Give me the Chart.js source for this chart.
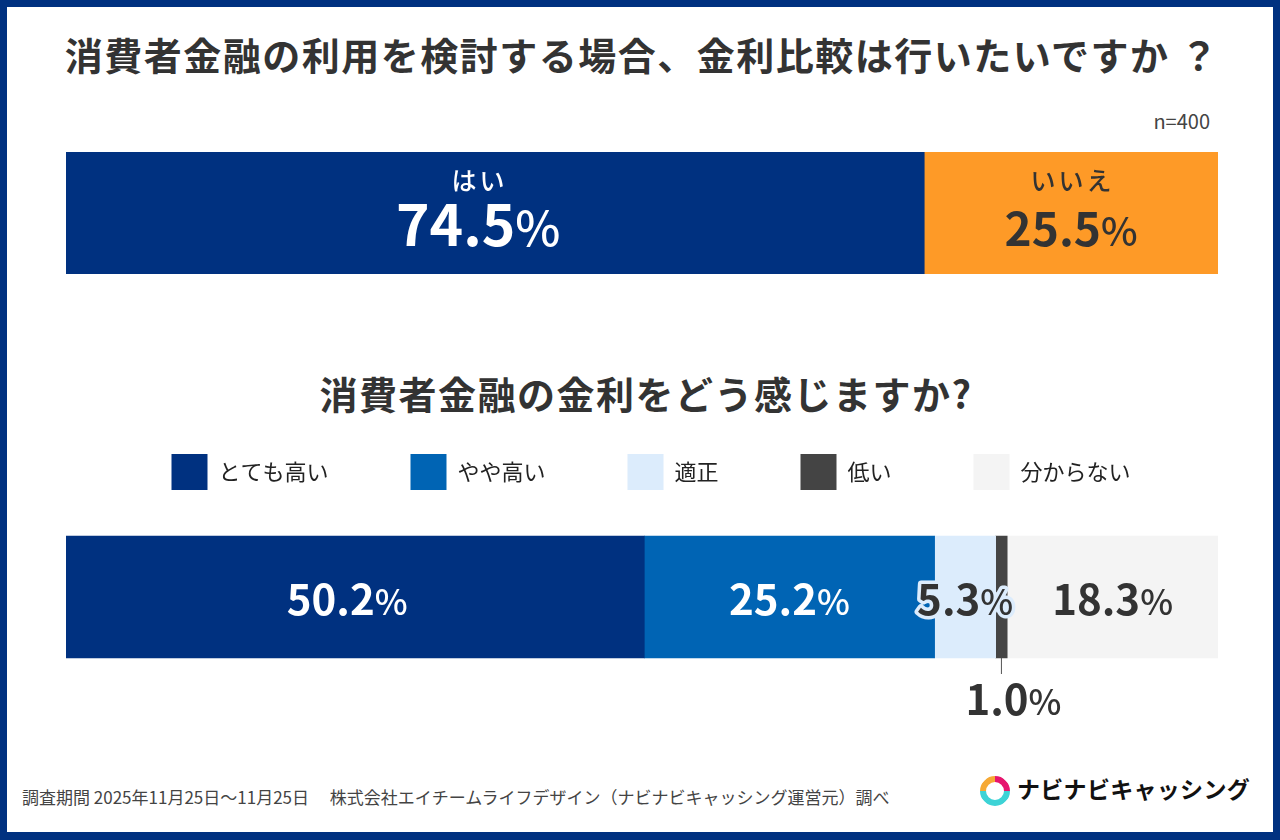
<!DOCTYPE html>
<html lang="ja">
<head>
<meta charset="utf-8">
<title>消費者金融の金利に関するアンケート</title>
<script src="https://cdn.jsdelivr.net/npm/chart.js@4.4.1/dist/chart.umd.min.js"></script>
<style>
    html, body { margin: 0; padding: 0; }
    body {
        position: relative;
        width: 1280px;
        height: 840px;
        overflow: hidden;
        background: #003180;
        font-family: "Noto Sans CJK JP", "Noto Sans", sans-serif;
        color: #333;
    }
    .frame { position: absolute; left: 7px; top: 7px; width: 1266px; height: 825px; background: #fff; }
    .title {
        position: absolute;
        left: 0;
        width: 1280px;
        text-align: center;
        font-size: 38px;
        line-height: 38px;
        font-weight: 700;
        letter-spacing: 1.5px;
        white-space: nowrap;
    }
    #title1 { top: 35px; padding-left: 4px; box-sizing: border-box; }
    #title2 { top: 374px; padding-left: 12px; box-sizing: border-box; }
    #sample { position: absolute; right: 70px; top: 111px; font-size: 20px; line-height: 20px; color: #444; }
    canvas { position: absolute; left: 0; }
    #q1Chart { top: 152px; }
    #q2Chart { top: 360px; }
    #footer { position: absolute; left: 22px; top: 788px; font-size: 17px; line-height: 17px; color: #444; white-space: nowrap; }
    .logo-ring {
        position: absolute;
        left: 980px;
        top: 776px;
        width: 18px;
        height: 18px;
        border: 6px solid;
        border-radius: 50%;
        border-color: #e6156e #3dd3d6 #3dd3d6 #f6a935;
        transform: rotate(45deg);
    }
    .logo-text { position: absolute; left: 1017px; top: 777px; font-size: 23px; line-height: 23px; font-weight: 700; color: #111; letter-spacing: 0.3px; white-space: nowrap; }
</style>
</head>
<body>
<div class="frame"></div>
<div class="title" id="title1">消費者金融の利用を検討する場合、金利比較は行いたいですか ？</div>
<div id="sample">n=400</div>
<canvas id="q1Chart" width="1280" height="122"></canvas>
<div class="title" id="title2">消費者金融の金利をどう感じますか?</div>
<canvas id="q2Chart" width="1280" height="370"></canvas>
<div id="footer">調査期間 2025年11月25日～11月25日　 株式会社エイチームライフデザイン（ナビナビキャッシング運営元）調べ</div>
<div class="logo-ring"></div>
<div class="logo-text">ナビナビキャッシング</div>

<script>
// 金利比較は行いたいですか？
var q1Labels = ["はい", "いいえ"];
var q1Values = [74.5, 25.5];

// 金利をどう感じますか?
var q2Labels = ["とても高い", "やや高い", "適正", "低い", "分からない"];
var q2Values = [50.2, 25.2, 5.3, 1.0, 18.3];

// colours
var q1Colors = ['#003180', '#fe9a27'];
var q1TextColors = ['#ffffff', '#333333'];
var q2Colors = ['#003180', '#0064b4', '#dcecfc', '#444444', '#f4f4f4'];
var q2TextColors = ['#ffffff', '#ffffff', '#333333', '#333333', '#333333'];

var FONT = '"Noto Sans CJK JP", "Noto Sans", sans-serif';

// draws "74.5%" with a lighter, smaller percent sign
function drawPercent(ctx, value, cx, baseline, size, color, outline) {
    var num = value.toFixed(1);
    var numFont = 'bold ' + size + 'px ' + FONT;
    var pctFont = '500 ' + Math.round(size * 0.84) + 'px ' + FONT;
    ctx.font = numFont;
    var w1 = ctx.measureText(num).width;
    ctx.font = pctFont;
    var w2 = ctx.measureText('%').width;
    var x = cx - (w1 + w2) / 2;
    ctx.textAlign = 'left';
    ctx.textBaseline = 'alphabetic';
    if (outline) {
        ctx.strokeStyle = outline;
        ctx.lineWidth = 7;
        ctx.lineJoin = 'round';
        ctx.font = numFont;
        ctx.strokeText(num, x, baseline);
        ctx.font = pctFont;
        ctx.strokeText('%', x + w1, baseline);
    }
    ctx.fillStyle = color;
    ctx.font = numFont;
    ctx.fillText(num, x, baseline);
    ctx.font = pctFont;
    ctx.fillText('%', x + w1, baseline);
    return w1 + w2;
}

function textWidth(ctx, value, size) {
    ctx.font = 'bold ' + size + 'px ' + FONT;
    var w = ctx.measureText(value.toFixed(1)).width;
    ctx.font = '500 ' + Math.round(size * 0.84) + 'px ' + FONT;
    return w + ctx.measureText('%').width;
}

// labels inside (or below) each stacked segment
var barLabels = {
    id: 'barLabels',
    afterLayout: function (chart, args, opts) {
        // nudge the legend row a little to the right
        if (chart.legend && opts.legendShift) {
            chart.legend.left += opts.legendShift;
            chart.legend.right += opts.legendShift;
        }
    },
    afterDatasetsDraw: function (chart, args, opts) {
        var ctx = chart.ctx;
        ctx.save();
        chart.data.datasets.forEach(function (ds, i) {
            var bar = chart.getDatasetMeta(i).data[0];
            var left = Math.min(bar.x, bar.base);
            var right = Math.max(bar.x, bar.base);
            var cx = (left + right) / 2 + opts.shift[i];
            var cy = bar.y;
            var bottom = bar.y + bar.height / 2;
            var value = ds.data[0];
            var color = opts.textColors[i];
            var size = opts.sizes[i];

            if (right - left < 20) {
                // too thin: leader line and label under the bar
                ctx.strokeStyle = '#555';
                ctx.lineWidth = 1;
                ctx.beginPath();
                ctx.moveTo((left + right) / 2, bottom);
                ctx.lineTo((left + right) / 2, bottom + 16);
                ctx.stroke();
                drawPercent(ctx, value, cx, bottom + 57, size, '#333333');
                return;
            }

            if (opts.showCategory) {
                ctx.font = '500 25px ' + FONT;
                ctx.letterSpacing = '3px';
                ctx.fillStyle = color;
                ctx.textAlign = 'center';
                ctx.textBaseline = 'middle';
                ctx.fillText(ds.label, cx + 1.5, cy - 33);
                ctx.letterSpacing = '0px';
            }

            var outline = textWidth(ctx, value, size) > right - left ? ds.backgroundColor : null;
            drawPercent(ctx, value, cx, cy + opts.baseline, size, color, outline);
        });
        ctx.restore();
    }
};

var chartQ1 = new Chart(document.getElementById('q1Chart'), {
    type: 'bar',
    data: {
        labels: ['q1'],
        datasets: q1Labels.map(function (label, i) {
            return {
                label: label,
                data: [q1Values[i]],
                backgroundColor: q1Colors[i],
                borderWidth: 0,
                barPercentage: 1,
                categoryPercentage: 1
            };
        })
    },
    options: {
        indexAxis: 'y',
        responsive: false,
        animation: false,
        layout: { padding: { left: 66, right: 62 } },
        scales: {
            x: { stacked: true, min: 0, max: 100, display: false },
            y: { stacked: true, display: false }
        },
        plugins: {
            legend: { display: false },
            tooltip: { enabled: false },
            barLabels: {
                showCategory: true,
                sizes: [57, 46],
                shift: [-17, 0],
                baseline: 33,
                textColors: q1TextColors
            }
        }
    },
    plugins: [barLabels]
});

var chartQ2 = new Chart(document.getElementById('q2Chart'), {
    type: 'bar',
    data: {
        labels: ['q2'],
        datasets: q2Labels.map(function (label, i) {
            return {
                label: label,
                data: [q2Values[i]],
                backgroundColor: q2Colors[i],
                borderWidth: 0,
                barThickness: 122
            };
        })
    },
    options: {
        indexAxis: 'y',
        responsive: false,
        animation: false,
        layout: { padding: { left: 66, right: 62, top: 12, bottom: 36 } },
        scales: {
            x: { stacked: true, min: 0, max: 100, display: false },
            y: { stacked: true, display: false }
        },
        plugins: {
            legend: {
                display: true,
                position: 'top',
                labels: {
                    boxWidth: 36,
                    boxHeight: 36,
                    padding: 82,
                    color: '#222',
                    font: { family: FONT, size: 22 }
                }
            },
            tooltip: { enabled: false },
            barLabels: {
                showCategory: false,
                sizes: [42, 42, 42, 42, 42],
                shift: [-8, 0, 0, 12, 0],
                baseline: 18,
                legendShift: 9,
                textColors: q2TextColors
            }
        }
    },
    plugins: [barLabels]
});
</script>
</body>
</html>
